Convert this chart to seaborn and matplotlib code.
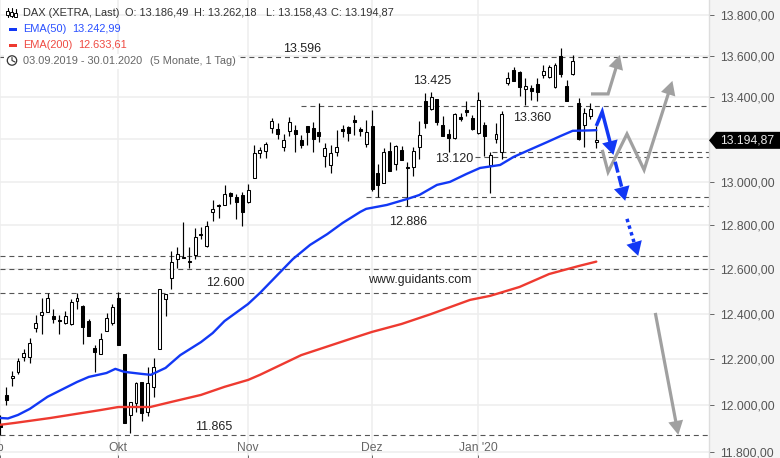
import matplotlib
matplotlib.use("Agg")
import matplotlib.pyplot as plt
import numpy as np
import pandas as pd
import seaborn as sns
from matplotlib.lines import Line2D
from matplotlib.patches import Polygon, Rectangle, Circle
from matplotlib.transforms import IdentityTransform, ScaledTranslation

# ---- data (index = trading day since 03.09.2019) ----
highs = [11959,12080,12149,12205,12245,12293,12395,12471,12493,12422,12395,12413,12467,12493,12440,12377,12262,12315,12404,12444,
         12498,12223,12015,12101,12101,12166,12205,12512,12489,12683,12701,12815,12701,12787,12792,12819,12916,12898,12986,12953,
         12944,12953,12990,13173,13164,13187,13301,13277,13225,13306,13268,13220,13263,13282,13373,13182,13173,13244,13268,13263,
         13316,13258,13292,13340,13084,13159,13187,13173,13169,13094,13164,13287,13421,13426,13392,13311,13249,13325,13325,13382,
         13316,13426,13282,13140,13277,13335,13522,13546,13527,13493,13459,13493,13556,13556,13566,13638,13484,13604,13397,13349,
         13373,13262]
tops = [11921,12045,12127,12192,12227,12271,12359,12408,12471,12390,12372,12390,12453,12471,12435,12368,12249,12289,12381,12431,
        12471,12223,12015,12097,12101,12097,12166,12512,12489,12633,12669,12655,12637,12746,12759,12796,12875,12893,12944,12949,
        12930,12939,12963,13136,13150,13178,13287,13249,13197,13282,13244,13197,13263,13254,13235,13159,13136,13164,13249,13258,
        13292,13249,13235,13263,13042,13140,13145,13169,13150,13070,13145,13220,13382,13401,13392,13268,13225,13321,13306,13340,
        13301,13387,13268,13126,13225,13321,13493,13532,13522,13455,13445,13464,13527,13546,13556,13600,13455,13575,13373,13325,
        13344,13195]
bottoms = [11908,12023,12119,12145,12210,12210,12337,12395,12408,12377,12370,12359,12355,12458,12342,12302,12231,12223,12324,12359,
           12262,11925,11959,12010,11968,11972,12080,12245,12467,12561,12646,12651,12633,12664,12755,12705,12861,12889,12893,12935,
           12907,12861,12907,13018,13136,13145,13254,13225,13164,13240,13225,13173,13235,13201,13216,13121,13079,13140,13240,13230,
           13282,13240,13178,12967,12986,12995,13051,13084,13103,13065,13070,13164,13278,13344,13282,13216,13206,13206,13297,13330,
           13249,13230,13216,13079,13201,13140,13469,13479,13450,13440,13430,13425,13508,13498,13450,13513,13382,13513,13201,13268,
           13311,13186]
lows = [11874,12002,12084,12136,12192,12184,12320,12311,12408,12359,12311,12355,12351,12422,12267,12302,12145,12223,12324,12351,
        12262,11925,11882,11972,11934,11955,12037,12245,12390,12512,12606,12651,12606,12646,12737,12701,12819,12833,12893,12898,
        12829,12796,12903,13018,13112,13112,13230,13201,13145,13216,13140,13159,13173,13140,13187,13070,13041,13121,13211,13192,
        13220,13216,13164,12958,12930,12995,13051,13056,13103,12889,13028,13108,13254,13340,13268,13216,13140,13201,13287,13311,
        13244,13225,13122,12948,13182,13108,13459,13479,13406,13363,13387,13382,13493,13493,13445,13498,13382,13508,13197,13164,
        13297,13158]
falling = [0,1,9,10,14,15,16,20,21,24,32,34,37,39,40,41,47,50,51,52,53,54,58,59,60,61,63,64,66,68,69,72,74,75,76,78,79,80,82,
           87,88,90,91,95,96,98]

ema50_day = [0,1.3,3,5,8,13,15,18,19.5,21,24,25.5,28,30.5,34,36,38,42,44,49.6,52.5,55.4,58,61,62,65.5,69,71,74,76.2,79,81.3,84.7,87,90,92.7,95,97,100,101]
ema50_val = [11946,11944,11959,11985,12037,12101,12123,12140,12158,12145,12136,12132,12162,12218,12275,12315,12368,12444,12493,12646,12710,12759,12810,12861,12875,12893,12921,12939,12986,13000,13037,13065,13079,13117,13154,13187,13216,13240,13242,13243]
ema200_day = [0,2.5,8.5,17,20,25.4,29,34,38,42,44,51,59.3,63,68,73,79.6,83,88,93,98,101]
ema200_val = [11917,11925,11946,11980,11993,11993,12015,12045,12080,12110,12132,12218,12289,12320,12355,12399,12462,12480,12520,12578,12614,12634]

levels = [13596,13360,13139,13116,12929,12886,12658,12600,12492,11873]
level_start = [0,51,83.3,80.5,62,67,0,0,0,0]

notes = ["13.596","13.425","13.360","13.120","12.886","12.600","11.865"]
note_day = [51.1,73.2,90.1,77,69.1,38.1,36.1]
note_val = [13632,13476,13300,13106,12814,12536,11907]

y_ticks = [13800,13600,13400,13200,13000,12800,12600,12400,12200,12000,11800]
y_labels = ["13.800,00","13.600,00","13.400,00","","13.000,00","12.800,00","12.600,00","12.400,00","12.200,00","12.000,00","11.800,00"]
x_ticks = [0,20,42,63,81]
x_labels = ["Sep","Okt","Nov","Dez","Jan '20"]
last_price = 13194.87

gray_paths = [([100.1,103,105],[13416,13416,13604]),
              ([102,103,106.2,109.1,113.9],[13150,13046,13225,13056,13479]),
              ([111,114.9],[12404,11874])]
blue_paths = [([101,102,103.9],[13263,13330,13126],"-"),
              ([104.2,105.9],[13094,12912],(0,(3.2,1))),
              ([106.2,108.1],[12829,12660],(0,(1,1)))]

# ---- style ----
sns.set_theme(style="white")
plt.rcParams["font.family"] = ["Liberation Sans", "DejaVu Sans"]
BLUE, RED, GRAY, TXT = "#1238f5", "#ee3a30", "#a0a0a0", "#333333"

W, H = 780, 458
fig = plt.figure(figsize=(W/100, H/100), dpi=100, facecolor="#f4f4f4")
ax = fig.add_axes([0, 0, 709/W, 1], facecolor="white")
ax.set_yscale("log")
ax.set_xlim(-0.05, 120.1)
ax.set_ylim(11776, 13875)

ax.set_yticks(y_ticks)
ax.set_yticklabels(y_labels)
ax.yaxis.set_minor_locator(matplotlib.ticker.NullLocator())
ax.yaxis.set_minor_formatter(matplotlib.ticker.NullFormatter())
ax.yaxis.tick_right()
ax.set_xticks(x_ticks)
ax.set_xticklabels(x_labels)
ax.tick_params(axis="y", which="major", direction="out", length=3.6, width=0.7, color="#666666",
               labelcolor="#555555", labelsize=8.7, pad=4.6, right=True, left=False)
ax.tick_params(axis="x", direction="in", length=2.5, width=0.7, color="#666666",
               labelcolor="#666666", labelsize=8.7, pad=-11.5, bottom=True)
sep_label = ax.get_xticklabels()[0]
sep_label.set_transform(sep_label.get_transform() + ScaledTranslation(-5/72, 0, fig.dpi_scale_trans))
ax.grid(True, color="#eeeeee", lw=1.1)
ax.set_axisbelow(True)
for s in ["top", "left", "bottom"]:
    ax.spines[s].set_visible(False)
ax.spines["right"].set_color("#dddddd")
ax.spines["right"].set_linewidth(1)

# levels
for lv, st in zip(levels, level_start):
    ax.plot([st, 120.1], [lv, lv], color="#555555", lw=0.8, ls=(0, (4.5, 3.5)), zorder=1.5)

# candles
n = len(highs)
days = np.arange(n)
ax.vlines(days, lows, highs, color="black", lw=0.85, zorder=2)
colors = ["black" if i in falling else "white" for i in days]
ax.bar(days, np.array(tops) - np.array(bottoms), bottom=bottoms, width=0.5,
       color=colors, edgecolor="black", linewidth=0.75, zorder=2.2)

# moving averages
sns.lineplot(x=ema200_day, y=ema200_val, ax=ax, color=RED, lw=1.7, estimator=None, sort=False, zorder=3)
sns.lineplot(x=ema50_day, y=ema50_val, ax=ax, color=BLUE, lw=1.7, estimator=None, sort=False, zorder=3)

for s, d, v in zip(notes, note_day, note_val):
    ax.text(d, v, s, ha="center", va="center", fontsize=9, color="#222222", zorder=4)
ax.text(71.1, 12553, "www.guidants.com", ha="center", va="center", fontsize=8.9, color="#222222", zorder=4)

ident = IdentityTransform()
def arrow(xs, ys, color, lw, ls="-", L=14, Wd=14):
    pts = ax.transData.transform(np.column_stack([xs, ys]))
    tip, prev = pts[-1], pts[-2]
    u = (tip - prev) / np.hypot(*(tip - prev))
    nrm = np.array([-u[1], u[0]])
    base = tip - u * L
    line = pts.copy()
    line[-1] = tip - u * L * 0.8
    ax.add_line(Line2D(line[:, 0], line[:, 1], transform=ident, color=color, lw=lw, ls=ls,
                       solid_joinstyle="miter", solid_capstyle="butt", dash_capstyle="butt", zorder=5))
    ax.add_patch(Polygon([tip, base + nrm * Wd / 2, base - nrm * Wd / 2], closed=True, transform=ident,
                         facecolor=color, edgecolor="none", zorder=5.1))

for xs, ys in gray_paths:
    arrow(xs, ys, GRAY, 2.3, Wd=15)
for xs, ys, ls in blue_paths:
    arrow(xs, ys, BLUE, 2.5, ls=ls, Wd=16)

# price tag (pixel offsets around the last price)
ty = ax.transData.transform((0, last_price))[1]
fig.add_artist(Polygon([(709, ty), (716, ty + 8.5), (780, ty + 8.5), (780, ty - 8.5), (716, ty - 8.5)],
                       closed=True, transform=ident, facecolor="black", edgecolor="none", zorder=6))
fig.text(720/W, ty/H, "13.194,87", color="#e8e8e8", fontsize=8.7, va="center", ha="left", zorder=7)

# header block
def py(p):
    return H - p
fig.add_artist(Rectangle((4, py(69)), 234, 15, transform=ident, facecolor="white", edgecolor="none", zorder=6))
def htxt(x, p, s, c):
    fig.text(x/W, py(p)/H, s, color=c, fontsize=7.9, va="center", ha="left", zorder=7)
htxt(23.3, 12.5, "DAX (XETRA, Last)", TXT)
htxt(125, 12.5, "O: 13.186,49", TXT)
htxt(194, 12.5, "H: 13.262,18", TXT)
htxt(266, 12.5, "L: 13.158,43", TXT)
htxt(331, 12.5, "C: 13.194,87", TXT)
htxt(23.3, 28.7, "EMA(50)", "#2a50ff")
htxt(72.3, 28.7, "13.242,99", "#2a50ff")
htxt(23.3, 44.7, "EMA(200)", "#ef4a42")
htxt(78.3, 44.7, "12.633,61", "#ef4a42")
htxt(23.3, 60.5, "03.09.2019 - 30.01.2020", "#666666")
htxt(150, 60.5, "(5 Monate, 1 Tag)", "#666666")

fig.add_artist(Rectangle((9, py(30.5)), 8, 3, transform=ident, facecolor=BLUE, edgecolor="none", zorder=7))
fig.add_artist(Rectangle((9, py(46.5)), 8, 3, transform=ident, facecolor=RED, edgecolor="none", zorder=7))
fig.add_artist(Circle((12, py(60.5)), 4.7, transform=ident, facecolor="white", edgecolor="#333333", lw=0.9, zorder=7))
fig.add_artist(Line2D([12, 12, 15], [py(57.5), py(60.5), py(62)], transform=ident, color="#333333", lw=0.8, zorder=7))
for x0, t, b, lo, hi in [(7.5, 11, 15, 8, 17), (11.5, 12, 16, 8, 17), (15.5, 13, 16.5, 9, 17)]:
    fig.add_artist(Line2D([x0, x0], [py(lo), py(hi)], transform=ident, color="black", lw=0.8, zorder=7))
    fig.add_artist(Rectangle((x0 - 1.4, py(b)), 2.8, b - t, transform=ident, facecolor="white",
                             edgecolor="black", lw=0.7, zorder=7.1))

fig.savefig("out.png", dpi=100, facecolor=fig.get_facecolor())
